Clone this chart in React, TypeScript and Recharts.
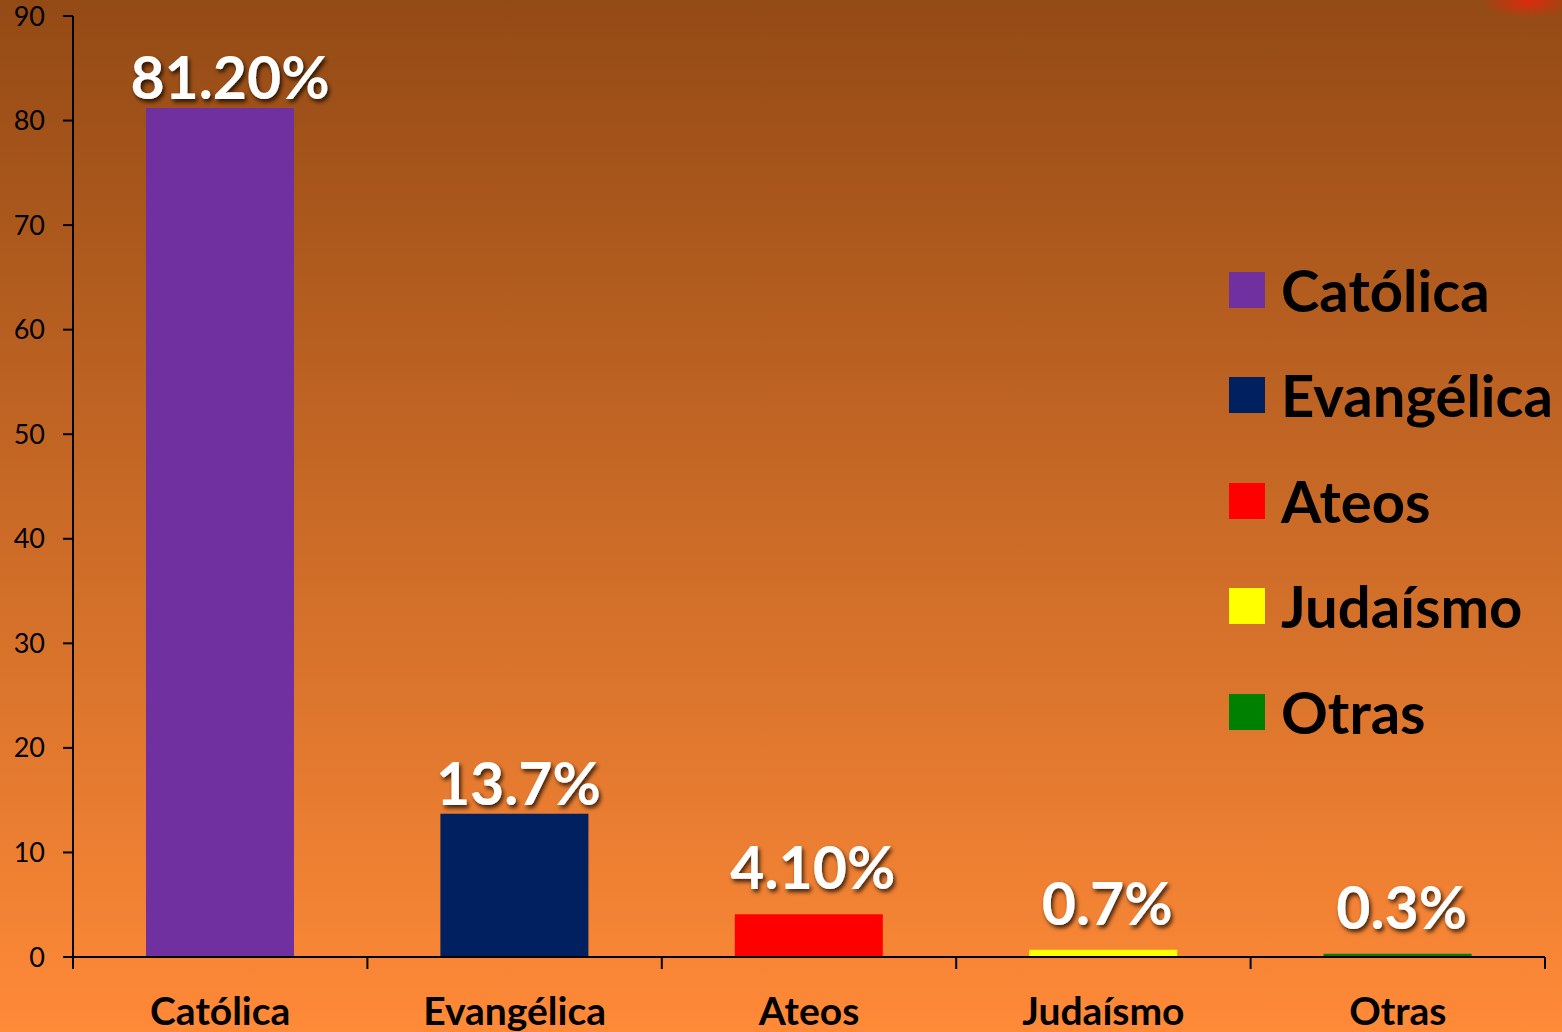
import React from 'react';
import { BarChart, Bar, XAxis, YAxis, Cell, LabelList, Legend } from 'recharts';

const categories = ['Católica', 'Evangélica', 'Ateos', 'Judaísmo', 'Otras'];
const values = [81.2, 13.7, 4.1, 0.7, 0.3];
const valueLabels = ['81.20%', '13.7%', '4.10%', '0.7%', '0.3%'];
const colors = ['#7030a0', '#002060', '#ff0000', '#ffff00', '#008000'];
const yTicks = [0, 10, 20, 30, 40, 50, 60, 70, 80, 90];

const data = categories.map((name, i) => ({ name, value: values[i] }));

const FONT = 'Lato, "Open Sans", sans-serif';

const ValueLabel = (props: any) => {
  const { x, y, width, index, value } = props;
  const gap = value < 10 ? 25 : 9;
  return (
    <text
      x={x + width / 2 + (index === 0 ? 10 : 4)}
      y={y - gap}
      textAnchor="middle"
      fontFamily={FONT}
      fontWeight={700}
      fontSize={59}
      fill="#ffffff"
      filter="url(#txtShadow)"
    >
      {valueLabels[index]}
    </text>
  );
};

const CatTick = (props: any) => {
  const { x, y, payload, index, visibleTicksCount } = props;
  const half = payload && typeof payload.offset === 'number' && payload.offset > 0 ? payload.offset : 0;
  const last = index === (visibleTicksCount ?? categories.length) - 1;
  return (
    <g>
      {half > 0 && <line x1={x - half} x2={x - half} y1={y} y2={y + 12} stroke="#000" strokeWidth={2} />}
      {half > 0 && last && <line x1={x + half} x2={x + half} y1={y} y2={y + 12} stroke="#000" strokeWidth={2} />}
      <text x={x} y={y + 68} textAnchor="middle" fontFamily={FONT} fontWeight={700} fontSize={39} fill="#000">
        {payload.value}
      </text>
    </g>
  );
};

const LegendContent = () => (
  <div style={{ fontFamily: FONT }}>
    {categories.map((c, i) => (
      <div key={c} style={{ display: 'flex', alignItems: 'center', height: 105.5 }}>
        <div style={{ width: 36, height: 36, background: colors[i], marginRight: 16 }} />
        <span style={{ fontSize: 58, fontWeight: 700, color: '#000', lineHeight: '58px', whiteSpace: 'nowrap' }}>{c}</span>
      </div>
    ))}
  </div>
);

export default function App() {
  return (
    <div
      style={{
        position: 'absolute',
        left: 0,
        top: 0,
        width: 1562,
        height: 1032,
        overflow: 'hidden',
        background:
          'radial-gradient(ellipse 45px 16px at 1528px 2px, rgba(225,40,10,0.95), rgba(225,40,10,0) 100%), linear-gradient(to bottom, #944a15 0%, #ff8a38 100%)',
      }}
    >
      <svg width={0} height={0} style={{ position: 'absolute' }}>
        <defs>
          <filter id="txtShadow" x="-20%" y="-20%" width="140%" height="160%">
            <feDropShadow dx={2} dy={3} stdDeviation={2} floodColor="#000" floodOpacity={0.75} />
          </filter>
        </defs>
      </svg>
      <BarChart width={1562} height={1032} data={data} margin={{ top: 16, right: 17, left: 0, bottom: 0 }}>
        <YAxis
          type="number"
          domain={[0, 90]}
          ticks={yTicks}
          width={73}
          tickSize={10}
          tickMargin={18}
          axisLine={{ stroke: '#000', strokeWidth: 2 }}
          tickLine={{ stroke: '#000', strokeWidth: 2 }}
          tick={{ fontFamily: FONT, fontSize: 27, fill: '#000' }}
        />
        <XAxis
          dataKey="name"
          height={75}
          tickLine={false}
          tickSize={0}
          tickMargin={0}
          axisLine={{ stroke: '#000', strokeWidth: 2 }}
          tick={<CatTick />}
          interval={0}
        />
        <Legend
          layout="vertical"
          align="center"
          verticalAlign="middle"
          content={<LegendContent />}
          wrapperStyle={{ left: 1229, top: 237, width: 333, height: 530 }}
        />
        <Bar dataKey="value" barSize={148} isAnimationActive={false}>
          {data.map((d, i) => (
            <Cell key={d.name} fill={colors[i]} />
          ))}
          <LabelList dataKey="value" content={<ValueLabel />} />
        </Bar>
      </BarChart>
    </div>
  );
}
